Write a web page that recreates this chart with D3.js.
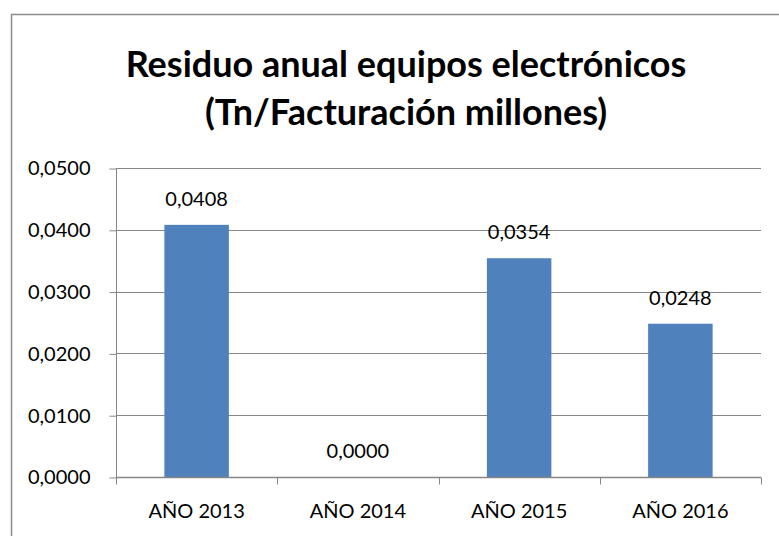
<!DOCTYPE html>
<html>
<head>
<meta charset="utf-8">
<script src="https://cdn.jsdelivr.net/npm/d3@7"></script>
<style>
  body { margin: 0; background: #fff; }
  text { font-family: Lato, "Open Sans", sans-serif; fill: #000; }
</style>
</head>
<body>
<script>
'use strict';

// chart data
const categories = ["AÑO 2013", "AÑO 2014", "AÑO 2015", "AÑO 2016"];
const values = [0.0408, 0.0000, 0.0354, 0.0248];
const yTicks = [0, 0.01, 0.02, 0.03, 0.04, 0.05];
const titleLines = ["Residuo anual equipos electrónicos", "(Tn/Facturación millones)"];

(function() {
  const width = 779, height = 536;
  const fmt = (v) => v.toFixed(4).replace('.', ',');

  let svg = d3.select('body')
    .append('svg')
    .attr('width', width)
    .attr('height', height);

  // outer chart border
  svg.append('rect')
    .attr('x', 11.5)
    .attr('y', 14.5)
    .attr('width', 800)
    .attr('height', 600)
    .attr('fill', 'none')
    .attr('stroke', '#8c8c8c')
    .attr('stroke-width', 1.5);

  // title
  svg.append('g').selectAll('text')
    .data(titleLines)
    .enter()
    .append('text')
      .attr('x', 406)
      .attr('y', (d, i) => 77 + i * 48)
      .attr('text-anchor', 'middle')
      .style('font-size', '36px')
      .style('font-weight', 'bold')
      .text((d) => d);

  let x = d3.scaleBand()
    .domain(categories)
    .range([116, 761])
    .paddingInner(0.6)
    .paddingOuter(0.3);

  let y = d3.scaleLinear()
    .domain([0, 0.05])
    .range([477, 168]);

  // gridlines
  svg.append('g')
    .selectAll('line')
    .data(yTicks.slice(1))
    .enter()
    .append('line')
      .attr('x1', 116)
      .attr('x2', 761)
      .attr('y1', (d) => Math.round(y(d)) + 0.5)
      .attr('y2', (d) => Math.round(y(d)) + 0.5)
      .attr('stroke', '#868686')
      .attr('stroke-width', 1);

  // y axis
  let yAxis = d3.axisLeft(y)
    .tickValues(yTicks)
    .tickSize(7)
    .tickPadding(19)
    .tickFormat(fmt);
  let gy = svg.append('g')
    .attr('transform', 'translate(116.5, 0.5)')
    .call(yAxis);
  gy.selectAll('text').style('font-size', '20px').attr('fill', '#000');
  gy.selectAll('line, path').attr('stroke', '#868686');
  gy.select('path').attr('d', 'M0,' + y(0.05) + 'V' + y(0));

  // bars
  svg.append('g')
    .selectAll('rect')
    .data(values)
    .enter()
    .append('rect')
      .attr('x', (d, i) => x(categories[i]))
      .attr('y', (d) => y(d))
      .attr('width', x.bandwidth())
      .attr('height', (d) => y(0) - y(d))
      .attr('fill', '#4f81bd');

  // value labels
  svg.append('g')
    .selectAll('text')
    .data(values)
    .enter()
    .append('text')
      .attr('x', (d, i) => x(categories[i]) + x.bandwidth() / 2)
      .attr('y', (d) => y(d) - 19)
      .attr('text-anchor', 'middle')
      .style('font-size', '20px')
      .text(fmt);

  // x axis with ticks at category boundaries
  let step = (761 - 116) / categories.length;
  let gx = svg.append('g')
    .attr('transform', 'translate(0,' + (Math.round(y(0)) + 0.5) + ')');
  gx.append('line')
    .attr('x1', 116).attr('x2', 761)
    .attr('stroke', '#868686')
    .attr('stroke-width', 1.5);
  gx.selectAll('.tick')
    .data(d3.range(categories.length + 1))
    .enter()
    .append('line')
      .attr('x1', (d) => Math.round(116 + d * step) + 0.5)
      .attr('x2', (d) => Math.round(116 + d * step) + 0.5)
      .attr('y1', 0)
      .attr('y2', 7)
      .attr('stroke', '#868686');
  gx.selectAll('text')
    .data(categories)
    .enter()
    .append('text')
      .attr('x', (d) => x(d) + x.bandwidth() / 2)
      .attr('y', 40)
      .attr('text-anchor', 'middle')
      .style('font-size', '20px')
      .text((d) => d);
})();
</script>
</body>
</html>
